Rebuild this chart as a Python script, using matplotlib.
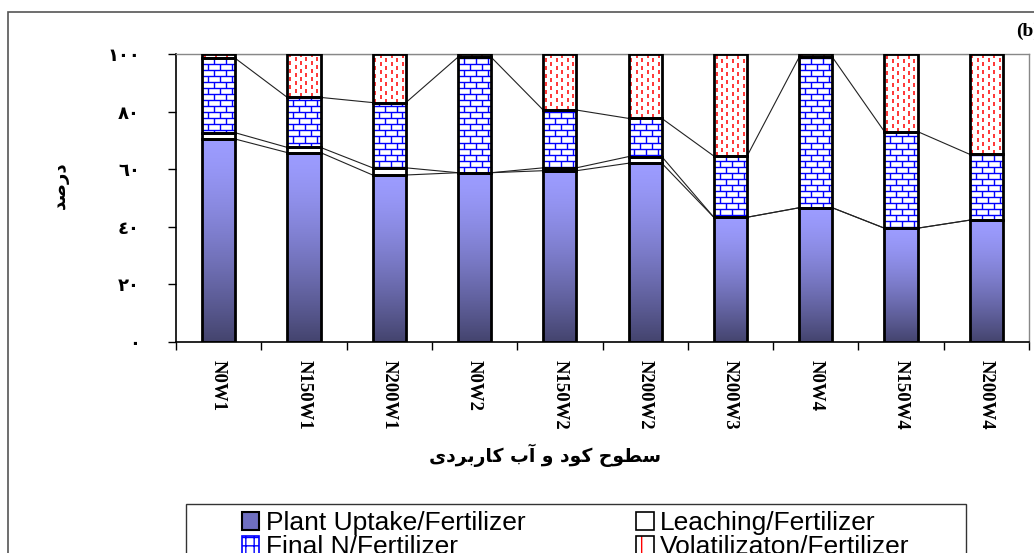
import numpy as np
import matplotlib.pyplot as plt
from matplotlib.patches import Patch, Rectangle
from matplotlib.collections import LineCollection
from matplotlib.colors import to_rgb

# fertilizer / water treatments
categories = ['N0W1', 'N150W1', 'N200W1', 'N0W2', 'N150W2', 'N200W2',
              'N200W3', 'N0W4', 'N150W4', 'N200W4']

# percent of applied fertilizer
plant_uptake = [70.5, 65.8, 58.0, 58.8, 59.5, 62.1, 43.3, 46.6, 39.5, 42.3]
leaching = [2.2, 1.8, 2.5, 0.0, 1.0, 2.3, 0.0, 0.0, 0.0, 0.0]
final_n = [25.9, 17.4, 22.7, 40.2, 20.1, 13.3, 21.3, 52.4, 33.6, 22.9]
volatilization = [1.4, 15.0, 16.8, 1.0, 19.4, 22.3, 35.4, 1.0, 26.9, 34.8]

legend_labels = ['Plant Uptake/Fertilizer', 'Final N/Fertilizer',
                 'Leaching/Fertilizer', 'Volatilizaton/Fertilizer']

y_ticks = [0, 20, 40, 60, 80, 100]
# arabic-indic digits
y_tick_labels = ['\u0660', '\u0662\u0660', '\u0664\u0660', '\u0666\u0660',
                 '\u0668\u0660', '\u0661\u0660\u0660']

# persian text, already shaped (presentation forms) and in visual order
xlabel = ('\uFBFC\uFEA9\uFEAE\uFE91\uFEAD\uFE8E\uFB90 \uFE8F\uFE81 \uFEED '
          '\uFEA9\uFEEE\uFB90 \uFEA1\uFEEE\uFEC4\uFEB3')   # سطوح کود و آب کاربردی
ylabel = '\uFEAA\uFEBB\uFEAD\uFEA9'                        # درصد

BAR_W = 0.39
W, H = 1034, 553


def brick_segments(x0, y0, w, h, rh=2.1, bw=0.14):
    segs = []
    ys = np.arange(y0 - (y0 % rh), y0 + h + rh, rh)
    for k, y in enumerate(ys):
        segs.append([(x0, y), (x0 + w, y)])
        for xv in np.arange(x0 - bw + (k % 2) * bw / 2, x0 + w + bw, bw):
            segs.append([(xv, y), (xv, y + rh)])
    return segs


def dash_segments(x0, y0, w, h, cs=0.064, dl=1.4, period=2.8):
    segs = []
    for j, xv in enumerate(np.arange(x0 + cs / 2, x0 + w, cs)):
        start = y0 + (j % 2) * period / 2 - period
        for yv in np.arange(start, y0 + h + period, period):
            segs.append([(xv, yv), (xv, yv + dl)])
    return segs


fig = plt.figure(figsize=(W / 100, H / 100), dpi=100)
ax = fig.add_axes([176 / W, 1 - 341.7 / H, (1029 - 176) / W, (341.7 - 54.3) / H])

x = np.arange(len(categories))
series = np.array([plant_uptake, leaching, final_n, volatilization])
tops = np.cumsum(series, axis=0)
bottoms = tops - series

# series lines between neighbouring bars
line_segs = []
for lvl in tops:
    for i in range(len(x) - 1):
        line_segs.append([(x[i] + BAR_W / 2, lvl[i]), (x[i + 1] - BAR_W / 2, lvl[i + 1])])
ax.add_collection(LineCollection(line_segs, colors='#222222', linewidths=0.8, zorder=1.5))

# plant uptake: vertical gradient per bar
light = np.array(to_rgb('#9c9cff'))
dark = np.array(to_rgb('#44446e'))
t = np.linspace(0, 1, 200)[:, None]
grad = (light + (dark - light) * t ** 1.4).reshape(200, 1, 3)
for i in x:
    ax.imshow(grad, extent=[i - BAR_W / 2, i + BAR_W / 2, 0, plant_uptake[i]],
              aspect='auto', zorder=2, interpolation='bilinear')

# white faces for the patterned segments
ax.bar(x, leaching, BAR_W, bottom=bottoms[1], color='white', lw=0, zorder=2)
fin = ax.bar(x, final_n, BAR_W, bottom=bottoms[2], color='white', lw=0, zorder=2)
vol = ax.bar(x, volatilization, BAR_W, bottom=bottoms[3], color='white', lw=0, zorder=2)

for i, p in enumerate(fin.patches):
    lc = LineCollection(brick_segments(x[i] - BAR_W / 2, bottoms[2][i], BAR_W, final_n[i]),
                        colors='#0000ff', linewidths=1.0, zorder=3)
    ax.add_collection(lc)
    lc.set_clip_path(p)
for i, p in enumerate(vol.patches):
    lc = LineCollection(dash_segments(x[i] - BAR_W / 2, bottoms[3][i], BAR_W, volatilization[i]),
                        colors='#ff0000', linewidths=1.1, zorder=3)
    ax.add_collection(lc)
    lc.set_clip_path(p)

# thick black outlines on top
for k in range(4):
    ax.bar(x, series[k], BAR_W, bottom=bottoms[k], facecolor='none',
           edgecolor='black', linewidth=2, zorder=4)

ax.set_xlim(-0.5, len(x) - 0.5)
ax.set_ylim(0, 100)

ax.set_xticks(x)
ax.set_xticklabels(categories, rotation=270, ha='center', va='top',
                   fontfamily='Liberation Serif', fontweight='bold', fontsize=13.5)
ax.set_xticks(np.arange(-0.5, len(x), 1), minor=True)
ax.tick_params(axis='x', which='major', length=0, pad=13)
ax.tick_params(axis='x', which='minor', length=6, width=1, color='black')

ax.set_yticks(y_ticks)
ax.set_yticklabels(y_tick_labels, fontfamily='DejaVu Sans', fontweight='bold', fontsize=13)
ax.tick_params(axis='y', length=6, width=1, pad=20, color='black')

for s in ['left', 'bottom']:
    ax.spines[s].set_color('black')
    ax.spines[s].set_linewidth(1.2)
for s in ['top', 'right']:
    ax.spines[s].set_color('#888888')
    ax.spines[s].set_linewidth(1)

fig.text(545 / W, 1 - 455 / H, xlabel, ha='center', va='center',
         fontfamily='DejaVu Sans', fontweight='bold', fontsize=13.5)
fig.text(60 / W, 1 - 185 / H, ylabel, ha='center', va='center', rotation=90,
         fontfamily='DejaVu Sans', fontweight='bold', fontsize=13)
fig.text(1016 / W, 1 - 31 / H, '(b)', ha='left', va='center',
         fontfamily='Liberation Serif', fontweight='bold', fontsize=14)

# legend
handles = [
    Patch(facecolor='#6f6fc0', edgecolor='black', lw=1.5),
    (Patch(facecolor='white', edgecolor='#0000ff', hatch='++', lw=0),
     Patch(facecolor='none', edgecolor='#0000ff', lw=1.2)),
    Patch(facecolor='white', edgecolor='black', lw=1.2),
    (Patch(facecolor='white', edgecolor='#ff0000', hatch='|', lw=0),
     Patch(facecolor='none', edgecolor='black', lw=1.2)),
]
fig.legend(handles=handles, labels=legend_labels, ncol=2, loc='upper left',
           bbox_to_anchor=(229 / W, 1 - 498 / H), frameon=False, borderpad=0,
           prop=dict(family='Liberation Sans', size=19), handlelength=0.65,
           handleheight=0.65, handletextpad=0.25, columnspacing=4.2, labelspacing=0.0)
fig.add_artist(Rectangle((186 / W, -0.1), (966 - 186) / W, 0.1 + 1 - 504 / H,
                         transform=fig.transFigure, fill=False, edgecolor='#333333', lw=1))

# outer frame of the figure, cut off at the right and bottom
fig.add_artist(Rectangle((8 / W, -0.1), 1.2, 0.1 + 1 - 12 / H,
                         transform=fig.transFigure, fill=False, edgecolor='#555555', lw=1.2))

fig.savefig('out.png', dpi=100)
